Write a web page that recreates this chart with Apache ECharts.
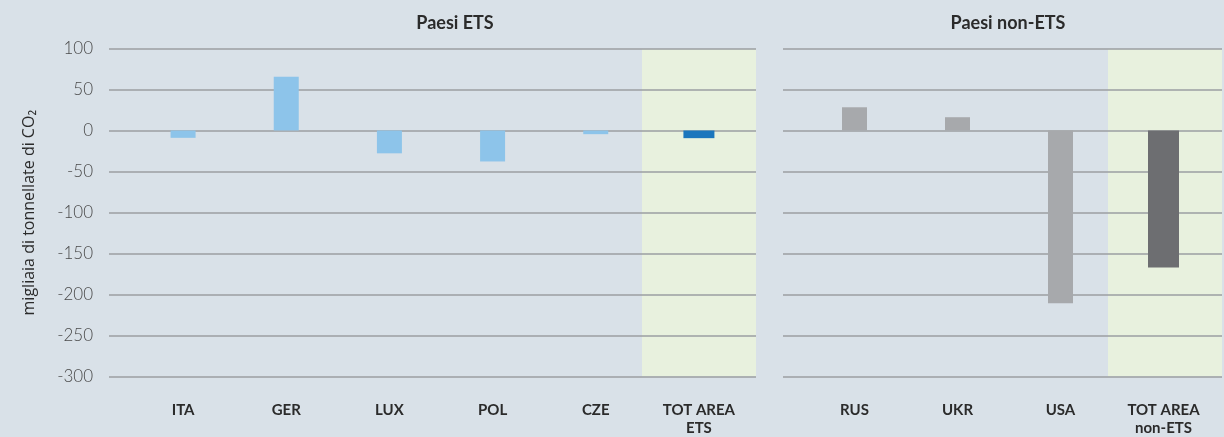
<!DOCTYPE html>
<html>
<head>
<meta charset="UTF-8"/>
<title>Paesi ETS / non-ETS</title>
<script src="https://cdn.jsdelivr.net/npm/echarts@6/dist/echarts.min.js"></script>
<style>
html,body{margin:0;padding:0;background:#d9e1e8;}
#main{width:1224px;height:437px;}
</style>
</head>
<body>
<div id="main"></div>
<script type="text/javascript">
// dati (migliaia di tonnellate di CO2)
var etsCountries = ['ITA', 'GER', 'LUX', 'POL', 'CZE', 'TOT AREA\nETS'];
var etsValues = [-9, 66, -28, -38, -4.5, '-'];
var etsTotal = ['-', '-', '-', '-', '-', -9.4];
var nonEtsCountries = ['RUS', 'UKR', 'USA', 'TOT AREA\nnon-ETS'];
var nonEtsValues = [28.5, 16.3, -212, '-'];
var nonEtsTotal = ['-', '-', '-', -168];
var yTicks = [-300, -250, -200, -150, -100, -50, 0, 50, 100];

var font = 'Lato, "Source Sans Pro", "Noto Sans", sans-serif';
var lineColor = '#9b9ea2';
var yMin = yTicks[0], yMax = yTicks[yTicks.length - 1];

var myChart = echarts.init(document.getElementById('main'));

function hiddenY(grid){
    return {gridIndex: grid, type: 'value', min: yMin, max: yMax, interval: 50, show: false};
}
function hiddenX(grid, cats){
    return {gridIndex: grid, type: 'category', data: cats, show: false};
}
// asse x "piatto" della griglia esterna, serve solo per la fascia verde
function flatX(grid, w){
    return {gridIndex: grid, type: 'value', min: 0, max: w, show: false};
}
function labelX(grid, cats){
    return {
        gridIndex: grid, type: 'category', data: cats,
        axisLine: {show: false}, axisTick: {show: false},
        axisLabel: {margin: 26, color: '#2b2b2b', fontFamily: font, fontWeight: 'bold', fontSize: 15, lineHeight: 18, interval: 0}
    };
}
function band(xi, yi, from, to){
    return {
        type: 'line', xAxisIndex: xi, yAxisIndex: yi, z: 0, data: [], silent: true,
        markArea: {silent: true, z: 0, itemStyle: {color: '#e8f1de'}, data: [[{xAxis: from}, {xAxis: to}]]}
    };
}

var option = {
    backgroundColor: '#d9e1e8',
    animation: false,
    title: [
        {text: 'Paesi ETS', left: 450, top: 9, textAlign: 'center',
         textStyle: {fontFamily: font, fontWeight: 'bold', fontSize: 18, color: '#2b2b2b'}},
        {text: 'Paesi non-ETS', left: 1003, top: 9, textAlign: 'center',
         textStyle: {fontFamily: font, fontWeight: 'bold', fontSize: 18, color: '#2b2b2b'}}
    ],
    grid: [
        {left: 109, width: 647, top: 49, bottom: 60.5},   // linee griglia sx
        {left: 131.5, width: 619, top: 49, bottom: 60.5}, // barre sx
        {left: 783, width: 439, top: 49, bottom: 60.5},   // linee griglia dx
        {left: 803, width: 412, top: 49, bottom: 60.5}    // barre dx
    ],
    xAxis: [
        flatX(0, 647),
        labelX(1, etsCountries),
        hiddenX(1, etsCountries),
        flatX(2, 439),
        labelX(3, nonEtsCountries),
        hiddenX(3, nonEtsCountries)
    ],
    yAxis: [
        {
            gridIndex: 0, type: 'value', min: yMin, max: yMax, interval: 50, z: 1,
            name: 'migliaia di tonnellate di CO₂', nameLocation: 'middle', nameGap: 72,
            nameTextStyle: {fontFamily: '"Open Sans", sans-serif', fontSize: 16, color: '#2b2b2b'},
            axisLine: {show: false}, axisTick: {show: false},
            axisLabel: {margin: 16, color: '#4a4a4a', fontFamily: font, fontWeight: 300, fontSize: 17},
            splitLine: {lineStyle: {color: lineColor, width: 1.5}}
        },
        hiddenY(1),
        {
            gridIndex: 2, type: 'value', min: yMin, max: yMax, interval: 50, z: 1,
            axisLine: {show: false}, axisTick: {show: false}, axisLabel: {show: false},
            splitLine: {lineStyle: {color: lineColor, width: 1.5}}
        },
        hiddenY(3)
    ],
    series: [
        band(0, 0, 533, 647),   // fascia totale ETS
        band(3, 2, 325, 439),   // fascia totale non-ETS
        {type: 'bar', xAxisIndex: 1, yAxisIndex: 1, barWidth: 25, data: etsValues, itemStyle: {color: '#8dc4ea'}},
        {type: 'bar', xAxisIndex: 2, yAxisIndex: 1, barWidth: 31, data: etsTotal, itemStyle: {color: '#1b76bd'}},
        {type: 'bar', xAxisIndex: 4, yAxisIndex: 3, barWidth: 25, data: nonEtsValues, itemStyle: {color: '#a7a9ac'}},
        {type: 'bar', xAxisIndex: 5, yAxisIndex: 3, barWidth: 31, data: nonEtsTotal, itemStyle: {color: '#6d6e71'}}
    ]
};
myChart.setOption(option);
</script>
</body>
</html>
